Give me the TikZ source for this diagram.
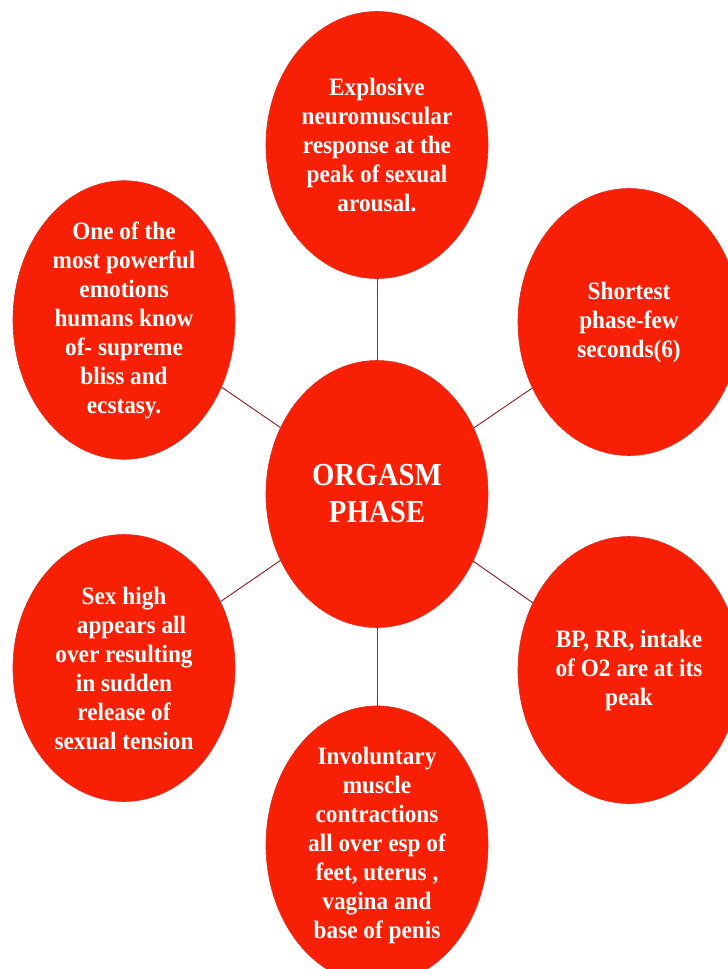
\documentclass[tikz,border=0pt]{standalone}
\usepackage{fontspec}
\setmainfont{Liberation Serif}
\newfontfamily\narrowserif[FakeStretch=0.93]{Liberation Serif}
\newfontfamily\hubserif[FakeStretch=0.9]{Liberation Serif}
\usetikzlibrary{shapes.geometric}
\definecolor{bubblefill}{RGB}{248,32,4}
\definecolor{bubbleedge}{RGB}{228,40,24}
\definecolor{linkcol}{RGB}{150,40,50}
\begin{document}
\begin{tikzpicture}[x=1pt,y=-1pt,
  bubble/.style={ellipse, fill=bubblefill, draw=bubbleedge, line width=0.6pt,
    minimum width=222pt, minimum height=267pt, inner sep=0pt, align=center,
    text=white, font=\narrowserif\fontsize{25}{29}\selectfont\bfseries},
  hub/.style={bubble, font=\hubserif\fontsize{32}{37}\selectfont\bfseries},
  linkline/.style={draw=linkcol, line width=1pt}]
\useasboundingbox (0,0) rectangle (728,969);
\clip (0,0) rectangle (728,969);
\fill[white] (0,0) rectangle (728,969);

\node[hub] (hub) at (377,494) {ORGASM\\PHASE};
\node[bubble] (top) at (377,145) {Explosive\\neuromuscular\\response at the\\peak of sexual\\arousal.};
\node[bubble] (ul) at (124,320) {One of the\\most powerful\\emotions\\humans know\\of- supreme\\bliss and\\ecstasy.};
\node[bubble] (ur) at (629,322) {Shortest\\phase-few\\seconds(6)};
\node[bubble] (ll) at (124,668) {Sex high\\\hspace*{0.6em}appears all\\over resulting\\in sudden\\release of\\sexual tension};
\node[bubble] (lr) at (629,670) {BP, RR, intake\\of O2 are at its\\peak};
\node[bubble] (bot) at (377,845) {Involuntary\\muscle\\contractions\\all over esp of\\feet, uterus ,\\vagina and\\base of penis};

\draw[linkline] (hub) -- (top);
\draw[linkline] (hub) -- (ul);
\draw[linkline] (hub) -- (ur);
\draw[linkline] (hub) -- (ll);
\draw[linkline] (hub) -- (lr);
\draw[linkline] (hub) -- (bot);
\end{tikzpicture}
\end{document}
